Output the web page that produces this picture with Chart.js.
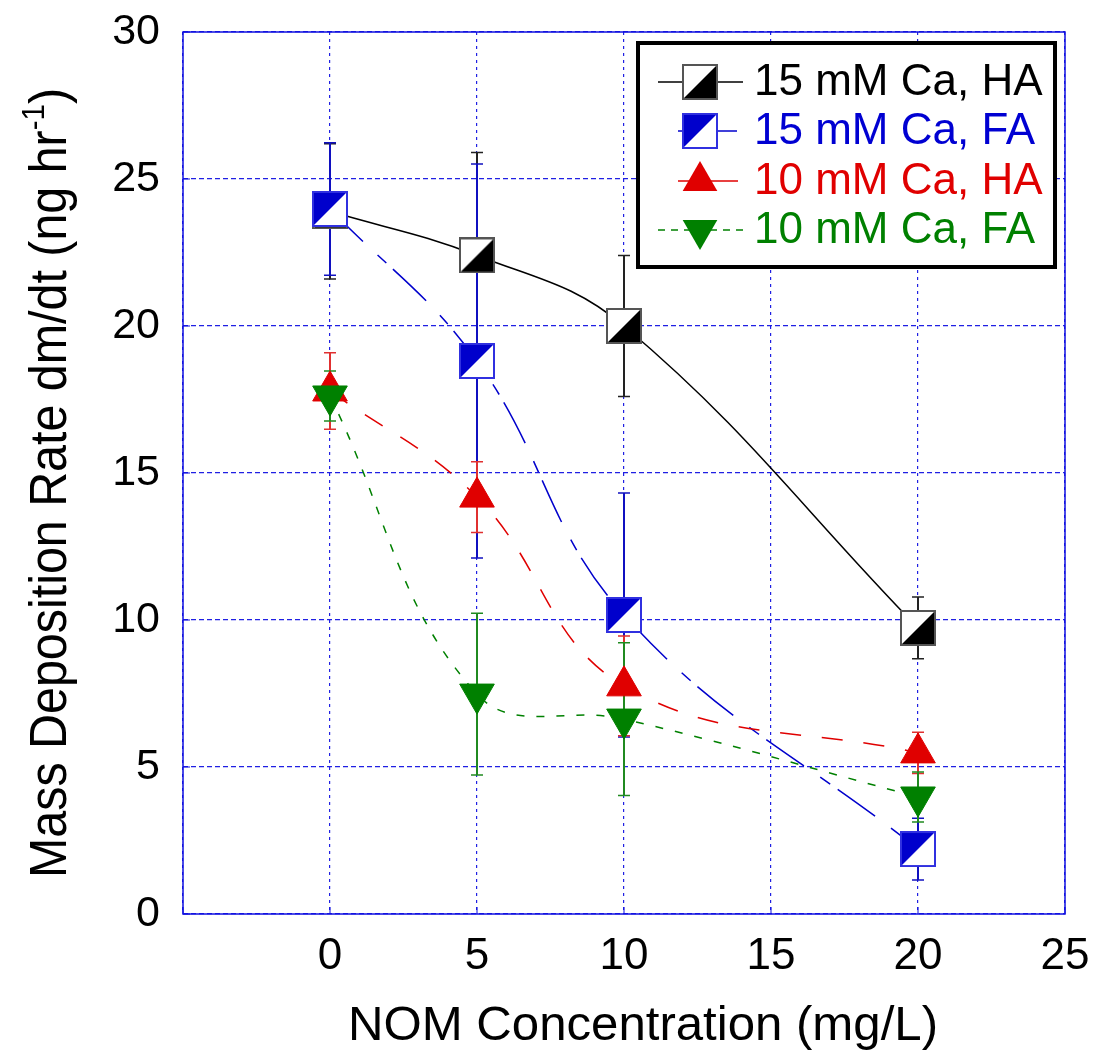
<!DOCTYPE html>
<html><head><meta charset="utf-8">
<script src="https://cdn.jsdelivr.net/npm/chart.js@4.4.0/dist/chart.umd.min.js"></script>
<style>html,body{margin:0;padding:0;background:#fff}</style>
</head><body>
<canvas id="c" width="1100" height="1050"></canvas>
<script>
// ---- data ----
const nomConc = [0, 5, 10, 20];
const ha15 = [23.9, 22.4, 20.0, 9.73];
const ha15Err = [2.3, 3.5, 2.4, 1.05];
const fa15 = [23.98, 18.81, 10.17, 2.21];
const fa15Err = [2.25, 6.7, 4.15, 1.05];
const ha10 = [17.79, 14.18, 7.76, 5.48];
const ha10Err = [1.3, 1.2, 1.7, 0.7];
const fa10 = [17.62, 7.48, 6.63, 3.98];
const fa10Err = [0.85, 2.75, 2.6, 0.85];
const seriesNames = ['15 mM Ca, HA', '15 mM Ca, FA', '10 mM Ca, HA', '10 mM Ca, FA'];
const xTickValues = [-5, 0, 5, 10, 15, 20, 25];
const xTickLabels = ['', '0', '5', '10', '15', '20', '25'];
const xTitle = 'NOM Concentration (mg/L)';
const yTitleMain = 'Mass Deposition Rate dm/dt (ng hr';
const yTitleSup = '-1';
const yTitleEnd = ')';

// ---- styles ----
const FONT = "'Liberation Sans', Arial, Helvetica, sans-serif";
const cBlack = '#000000', cBlue = '#0000cc', cRed = '#e00000', cGreen = '#008000';
const textColors = ['#000000', '#0000d2', '#e00000', '#008000'];
const gridColor = 'rgba(20,20,225,0.95)';

function squareMarker(size, fillColor, upperLeft, borderColor) {
  const cv = document.createElement('canvas');
  cv.width = size; cv.height = size;
  const g = cv.getContext('2d');
  g.fillStyle = '#fff';
  g.fillRect(0, 0, size, size);
  g.fillStyle = fillColor;
  g.beginPath();
  if (upperLeft) { g.moveTo(0, 0); g.lineTo(size, 0); g.lineTo(0, size); }
  else { g.moveTo(size, 0); g.lineTo(size, size); g.lineTo(0, size); }
  g.closePath(); g.fill();
  g.strokeStyle = borderColor; g.lineWidth = 2;
  g.strokeRect(1, 1, size - 2, size - 2);
  return cv;
}
const mBlack = squareMarker(36, cBlack, false, '#555555');
const mBlue = squareMarker(36, cBlue, true, '#3030e0');

const errSets = [ha15Err, fa15Err, ha10Err, fa10Err];
const errColors = ['#222222', '#1010c0', '#e03030', '#208a20'];

function pts(arr) { return nomConc.map((x, i) => ({x: x, y: arr[i]})); }

const plugin = {
  id: 'custom',
  beforeDatasetsDraw(chart) {
    const ctx = chart.ctx, xs = chart.scales.x, ys = chart.scales.y, a = chart.chartArea;
    ctx.save();
    ctx.strokeStyle = '#1010e0'; ctx.lineWidth = 1.5; ctx.setLineDash([]);
    ctx.strokeRect(a.left, a.top, a.right - a.left, a.bottom - a.top);
    ctx.lineWidth = 1;
    xTickValues.forEach(v => { const px = xs.getPixelForValue(v);
      ctx.beginPath(); ctx.moveTo(px, a.bottom); ctx.lineTo(px, a.bottom - 7); ctx.stroke(); });
    for (let v = 0; v <= 30; v += 5) { const py = ys.getPixelForValue(v);
      ctx.beginPath(); ctx.moveTo(a.left, py); ctx.lineTo(a.left + 7, py); ctx.stroke(); }
    const sets = [ha15, fa15, ha10, fa10];
    sets.forEach((s, k) => {
      ctx.strokeStyle = errColors[k];
      s.forEach((val, i) => {
        const px = xs.getPixelForValue(nomConc[i]);
        const t = ys.getPixelForValue(val + errSets[k][i]);
        const b = ys.getPixelForValue(val - errSets[k][i]);
        ctx.lineWidth = 2;
        ctx.beginPath(); ctx.moveTo(px, t); ctx.lineTo(px, b); ctx.stroke();
        ctx.lineWidth = 1.5;
        ctx.beginPath(); ctx.moveTo(px - 6, t); ctx.lineTo(px + 6, t);
        ctx.moveTo(px - 6, b); ctx.lineTo(px + 6, b); ctx.stroke();
      });
    });
    ctx.restore();
  },
  afterDraw(chart) {
    const ctx = chart.ctx;
    ctx.save();
    ctx.fillStyle = '#000';
    ctx.font = '48px ' + FONT;
    ctx.textBaseline = 'alphabetic';
    let w = ctx.measureText(xTitle).width;
    let sx = 590 / w;
    ctx.save();
    ctx.translate(643, 1040); ctx.scale(sx, 1);
    ctx.textAlign = 'center';
    ctx.fillText(xTitle, 0, 0);
    ctx.restore();
    ctx.save();
    ctx.font = '51px ' + FONT;
    const w1 = ctx.measureText(yTitleMain).width;
    const w3 = ctx.measureText(yTitleEnd).width;
    ctx.font = '31px ' + FONT;
    const w2 = ctx.measureText(yTitleSup).width;
    const total = w1 + w2 + w3;
    const sy = 790 / total;
    ctx.translate(66, 483 + 395);
    ctx.rotate(-Math.PI / 2);
    ctx.scale(sy, 1);
    ctx.textAlign = 'left';
    ctx.font = '51px ' + FONT;
    ctx.fillText(yTitleMain, 0, 0);
    ctx.font = '31px ' + FONT;
    ctx.fillText(yTitleSup, w1, -22);
    ctx.font = '51px ' + FONT;
    ctx.fillText(yTitleEnd, w1 + w2, 0);
    ctx.restore();
    const L = 638, T = 43, R = 1055, B = 267;
    ctx.fillStyle = '#fff';
    ctx.fillRect(L, T, R - L, B - T);
    ctx.strokeStyle = '#000'; ctx.lineWidth = 4; ctx.setLineDash([]);
    ctx.strokeRect(L, T, R - L, B - T);
    const rows = [82, 131, 181, 230];
    const lineSpans = [[658, 743], [678, 737], [678, 738], [658, 743]];
    const lineCols = [cBlack, cBlue, cRed, cGreen];
    const mx = 700;
    rows.forEach((ry, k) => {
      ctx.strokeStyle = lineCols[k]; ctx.lineWidth = 1.5;
      ctx.setLineDash(k === 3 ? [7, 6] : []);
      ctx.beginPath(); ctx.moveTo(lineSpans[k][0], ry); ctx.lineTo(lineSpans[k][1], ry); ctx.stroke();
      ctx.setLineDash([]);
      if (k === 0) ctx.drawImage(mBlack, mx - 18, ry - 18);
      else if (k === 1) ctx.drawImage(mBlue, mx - 18, ry - 18);
      else {
        ctx.fillStyle = lineCols[k];
        const r = 20, dir = k === 2 ? 1 : -1;
        ctx.beginPath();
        ctx.moveTo(mx, ry - dir * r);
        ctx.lineTo(mx + r * 0.866, ry + dir * r / 2);
        ctx.lineTo(mx - r * 0.866, ry + dir * r / 2);
        ctx.closePath(); ctx.fill();
      }
      ctx.fillStyle = textColors[k];
      ctx.font = '44px ' + FONT;
      ctx.textAlign = 'left'; ctx.textBaseline = 'middle';
      ctx.fillText(seriesNames[k], 754, ry + 1);
    });
    ctx.restore();
  }
};

new Chart(document.getElementById('c'), {
  type: 'line',
  data: {
    datasets: [
      { label: seriesNames[0], data: pts(ha15), borderColor: cBlack, borderWidth: 1.5, tension: 0.4,
        pointStyle: mBlack, pointRadius: 18, order: 4, fill: false },
      { label: seriesNames[1], data: pts(fa15), borderColor: cBlue, borderWidth: 1.5, tension: 0.4,
        borderDash: [46, 20, 12, 9], pointStyle: mBlue, pointRadius: 18, order: 3, fill: false },
      { label: seriesNames[2], data: pts(ha10), borderColor: cRed, borderWidth: 1.5, tension: 0.4,
        borderDash: [21, 21], pointStyle: 'triangle', pointRadius: 20, pointBackgroundColor: cRed,
        pointBorderColor: cRed, pointBorderWidth: 1, order: 2, fill: false },
      { label: seriesNames[3], data: pts(fa10), borderColor: cGreen, borderWidth: 1.5, tension: 0.4,
        borderDash: [8, 12], pointStyle: 'triangle', pointRotation: 180, pointRadius: 20,
        pointBackgroundColor: cGreen, pointBorderColor: cGreen, pointBorderWidth: 1, order: 1, fill: false }
    ]
  },
  options: {
    responsive: false,
    animation: false,
    events: [],
    layout: { padding: { top: 32, right: 35, left: 0, bottom: 0 } },
    plugins: { legend: { display: false }, tooltip: { enabled: false }, title: { display: false } },
    scales: {
      x: {
        type: 'linear', min: -5, max: 25,
        afterBuildTicks: s => { s.ticks = xTickValues.map(v => ({ value: v })); },
        ticks: { font: { family: FONT, size: 44 }, color: '#000', padding: 16, maxRotation: 0, autoSkip: false,
          callback: (v) => { const i = xTickValues.indexOf(v); return i >= 0 ? xTickLabels[i] : ''; } },
        grid: { color: gridColor, lineWidth: 1.2, drawTicks: false },
        border: { display: false, dash: [3, 4] },
        afterFit: s => { s.height = 136; s.paddingLeft = 0; s.paddingRight = 0; }
      },
      y: {
        type: 'linear', min: 0, max: 30,
        ticks: { stepSize: 5, font: { family: FONT, size: 43 }, color: '#000', padding: 23 },
        grid: { color: gridColor, lineWidth: 1.2, drawTicks: false },
        border: { display: false, dash: [5, 3] },
        afterFit: s => { s.width = 183; s.paddingTop = 0; s.paddingBottom = 0; }
      }
    }
  },
  plugins: [plugin]
});
</script>
</body></html>
